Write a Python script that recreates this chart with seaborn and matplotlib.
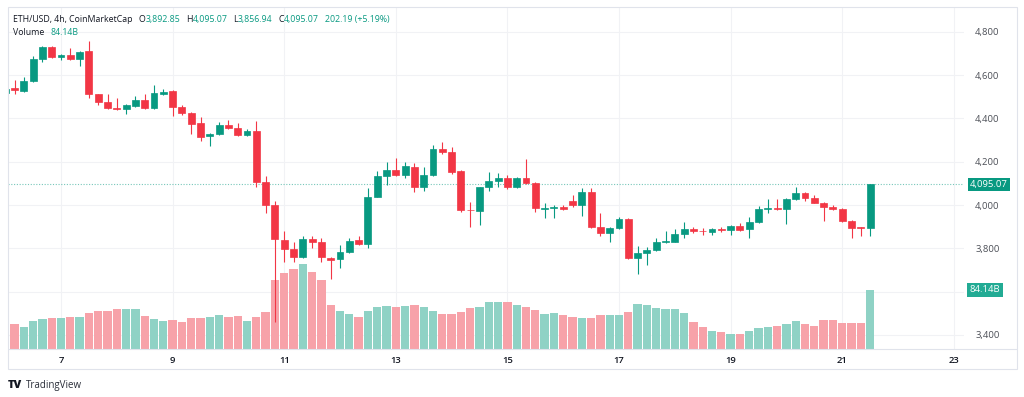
import numpy as np
import pandas as pd
import matplotlib
matplotlib.use("Agg")
import matplotlib.pyplot as plt
import matplotlib.transforms as mtransforms
from matplotlib.patches import Rectangle
from matplotlib.lines import Line2D
import seaborn as sns

# ---------------- data (ETH/USD, 4h candles) ----------------
start_time = "2025-10-06 00:00"
opens = [4517, 4540, 4528, 4573, 4675, 4728, 4686, 4692, 4674, 4710,
         4511, 4475, 4448, 4443, 4459, 4485, 4447, 4515, 4525, 4453,
         4425, 4377, 4317, 4328, 4370, 4354, 4323, 4343, 4105, 4000,
         3840, 3797, 3758, 3842, 3828, 3756, 3750, 3784, 3840, 3820,
         4038, 4135, 4162, 4139, 4177, 4085, 4139, 4259, 4243, 4157,
         3979, 3974, 4082, 4111, 4123, 4082, 4123, 4100, 3983, 3985,
         3990, 4018, 4000, 4062, 3900, 3869, 3895, 3934, 3757, 3777,
         3792, 3829, 3831, 3867, 3889, 3882, 3877, 3889, 3886, 3905,
         3888, 3923, 3980, 3988, 3982, 4028, 4054, 4034, 4011, 3990,
         3983, 3926, 3897, 3892.85]
highs = [4545, 4577, 4593, 4688, 4733, 4735, 4700, 4724, 4712, 4757,
         4515, 4515, 4496, 4466, 4505, 4515, 4554, 4535, 4530, 4460,
         4430, 4408, 4333, 4383, 4393, 4380, 4350, 4388, 4135, 4020,
         3881, 3830, 3858, 3858, 3846, 3762, 3815, 3846, 3858, 4077,
         4158, 4200, 4216, 4200, 4192, 4177, 4277, 4290, 4268, 4162,
         4015, 4085, 4151, 4146, 4139, 4128, 4212, 4105, 4011, 4000,
         3998, 4046, 4077, 4080, 3962, 3900, 3946, 3938, 3812, 3808,
         3846, 3880, 3889, 3923, 3900, 3895, 3895, 3900, 3908, 3915,
         3946, 3997, 4028, 4028, 4034, 4082, 4062, 4046, 4015, 4000,
         3988, 3930, 3898, 4095.07]
lows = [4510, 4515, 4522, 4570, 4660, 4678, 4670, 4670, 4643, 4496,
        4462, 4445, 4438, 4419, 4455, 4445, 4445, 4510, 4412, 4418,
        4327, 4296, 4274, 4325, 4350, 4320, 4318, 4085, 3962, 3460,
        3735, 3738, 3755, 3803, 3738, 3658, 3708, 3780, 3815, 3803,
        4035, 4092, 4132, 4123, 4062, 4066, 4135, 4238, 4143, 3970,
        3897, 3908, 4066, 4085, 4074, 4077, 4095, 3969, 3938, 3938,
        3978, 3992, 3951, 3895, 3858, 3831, 3890, 3752, 3680, 3723,
        3788, 3825, 3828, 3846, 3873, 3862, 3862, 3875, 3862, 3880,
        3846, 3915, 3962, 3978, 3914, 4025, 4018, 4008, 3928, 3978,
        3922, 3846, 3857, 3856.94]
closes = [4538, 4532, 4573, 4673, 4728, 4685, 4692, 4674, 4708, 4511,
          4477, 4447, 4442, 4462, 4485, 4447, 4516, 4522, 4453, 4425,
          4376, 4316, 4328, 4370, 4354, 4323, 4343, 4105, 4000, 3842,
          3797, 3758, 3842, 3828, 3758, 3748, 3784, 3834, 3822, 4038,
          4135, 4162, 4139, 4180, 4085, 4139, 4259, 4243, 4154, 3977,
          3975, 4082, 4111, 4123, 4082, 4123, 4100, 3985, 3987, 3990,
          3983, 3999, 4062, 3897, 3869, 3895, 3934, 3754, 3777, 3792,
          3831, 3833, 3867, 3889, 3880, 3878, 3889, 3885, 3903, 3885,
          3923, 3980, 3988, 3982, 4028, 4054, 4034, 4011, 3991, 3983,
          3926, 3895, 3892.88, 4095.07]
volumes_b = [42.8, 35.7, 31.8, 40.4, 42.8, 44.2, 44.2, 45.6, 45.1, 51.3,
             54.7, 54.7, 56.6, 57.0, 57.0, 47.1, 42.8, 40.4, 41.4, 39.0,
             43.7, 44.7, 45.1, 48.0, 46.1, 47.1, 40.4, 45.1, 53.2, 98.4,
             108.8, 114.1, 120.7, 109.3, 98.9, 62.7, 54.7, 50.4, 45.1, 54.2,
             59.9, 61.3, 59.4, 61.3, 62.3, 59.4, 54.7, 50.4, 49.9, 52.3,
             58.5, 60.4, 66.5, 66.5, 67.5, 62.3, 60.4, 55.1, 49.9, 50.9,
             49.0, 46.1, 44.7, 44.7, 49.0, 48.5, 48.5, 53.2, 63.7, 62.3,
             58.9, 57.5, 56.6, 50.9, 39.0, 31.4, 26.1, 23.8, 21.4, 21.4,
             25.2, 29.5, 30.9, 32.8, 35.7, 39.9, 36.1, 32.3, 40.9, 40.9,
             37.1, 37.1, 36.6, 84.14]

price_ticks = [3400, 3600, 3800, 4000, 4200, 4400, 4600, 4800]
# the 3,600 label is hidden behind the volume badge in the reference
price_tick_labels = ["3,400", "", "3,800", "4,000", "4,200", "4,400", "4,600", "4,800"]
day_ticks = [7, 9, 11, 13, 15, 17, 19, 21, 23]
title_text = "ETH/USD, 4h, CoinMarketCap"
volume_label = "Volume"
volume_value_label = "84.14B"

# ---------------- styling ----------------
UP = "#089981"
DOWN = "#F23645"
UP_VOL = "#8fd2c5"
DOWN_VOL = "#f7a2a9"
TEXT = "#131722"
AXTEXT = "#4c4f57"
GRID = "#f1f2f5"
FRAME = "#e0e3eb"

W, H = 1024, 397

times = pd.date_range(start_time, periods=len(opens), freq="4h")
df = pd.DataFrame({"time": times, "open": opens, "high": highs, "low": lows,
                   "close": closes, "volume": volumes_b})
df["pos"] = (df["time"] - df["time"].iloc[0]) / pd.Timedelta("4h")
df["dir"] = np.where(df["close"] >= df["open"], "up", "down")

sns.set_theme(style="white")
plt.rcParams["font.family"] = ["Open Sans", "DejaVu Sans"]

fig = plt.figure(figsize=(W / 100, H / 100), dpi=100)
fig.patch.set_facecolor("white")

left_px, right_px, top_px, bottom_px = 8, 964, 7, 349
rect = [left_px / W, 1 - bottom_px / H, (right_px - left_px) / W, (bottom_px - top_px) / H]
axv = fig.add_axes(rect)
ax = axv.twinx()

p_lo, p_hi = 3335, 4915
v_hi = 487.7

# ---- volume (seaborn) ----
sns.barplot(data=df, x="pos", y="volume", hue="dir", palette={"up": UP_VOL, "down": DOWN_VOL},
            native_scale=True, dodge=False, width=0.9, saturation=1, errorbar=None,
            legend=False, ax=axv, linewidth=0, zorder=2)
axv.set_ylim(0, v_hi)

# ---- candles ----
for d, col in (("up", UP), ("down", DOWN)):
    sub = df[df["dir"] == d]
    ax.vlines(sub["pos"], sub["low"], sub["high"], color=col, lw=0.8, zorder=3)
    body_lo = np.minimum(sub["open"], sub["close"])
    body_h = np.abs(sub["close"] - sub["open"])
    ax.bar(sub["pos"], body_h, bottom=body_lo, width=0.74, color=col, edgecolor=col,
           linewidth=0.5, zorder=4)

ax.set_ylim(p_lo, p_hi)
x0 = (left_px - 5.2) / 9.3
x1 = (right_px - 5.2) / 9.3
ax.set_xlim(x0, x1)
axv.set_xlim(x0, x1)

# grid drawn on the lower (volume) axes so it stays behind bars
grid_v = [(p - p_lo) / (p_hi - p_lo) * v_hi for p in price_ticks]
axv.set_yticks(grid_v)
axv.tick_params(axis="y", left=False, labelleft=False, length=0)
day_pos = [(pd.Timestamp(times[0].strftime("%Y-%m-") + f"{d:02d}") - times[0]) / pd.Timedelta("4h")
           for d in day_ticks]
axv.set_xticks(day_pos)
axv.set_xticklabels([str(d) for d in day_ticks], fontsize=6.8, color=TEXT, fontweight="semibold")
axv.tick_params(axis="x", length=0, pad=5)
axv.grid(True, color=GRID, lw=0.8)
axv.set_xlabel("")
axv.set_ylabel("")

ax.set_yticks(price_ticks)
ax.set_yticklabels(price_tick_labels, fontsize=6.8, color=AXTEXT)
ax.tick_params(axis="y", right=True, length=0, pad=8, labelright=True)
ax.grid(False)
ax.set_ylabel("")

for a in (ax, axv):
    for s in a.spines.values():
        s.set_visible(False)

# last price dotted line + badges
last_close = closes[-1]
ax.axhline(last_close, color=UP, lw=0.8, ls=(0, (1, 1.5)), alpha=0.55, zorder=2)
trans_p = mtransforms.blended_transform_factory(ax.transAxes, ax.transData)
ax.text(1.006, last_close, f"{last_close:,.2f}", transform=trans_p, color="white", fontsize=6.8,
        va="center", ha="left", clip_on=False, zorder=10,
        bbox=dict(boxstyle="square,pad=0.22", fc=UP, ec="none"))
trans_v = mtransforms.blended_transform_factory(ax.transAxes, axv.transData)
ax.text(1.006, volumes_b[-1], volume_value_label, transform=trans_v, color="white", fontsize=6.8,
        va="center", ha="left", clip_on=False, zorder=10,
        bbox=dict(boxstyle="square,pad=0.28", fc="#22ab94", ec="none"))

# frame
fig.add_artist(Rectangle((8 / W, 1 - 369 / H), (1017 - 8) / W, (369 - 7) / H,
                         transform=fig.transFigure, fill=False, ec=FRAME, lw=0.8))
fig.add_artist(Line2D([8 / W, 1017 / W], [1 - 349 / H, 1 - 349 / H],
                      transform=fig.transFigure, color=FRAME, lw=0.8))

# header (rich text laid out piece by piece)
prev_close = closes[-2]
chg = last_close - prev_close
pct = chg / prev_close * 100
row1 = [(title_text, TEXT, 0), ("O", TEXT, 6), (f"{opens[-1]:,.2f}", UP, 0), ("H", TEXT, 6),
        (f"{highs[-1]:,.2f}", UP, 0), ("L", TEXT, 6), (f"{lows[-1]:,.2f}", UP, 0), ("C", TEXT, 6),
        (f"{closes[-1]:,.2f}", UP, 0), (f"{chg:,.2f} ({pct:+.2f}%)", UP, 6)]
row2 = [(volume_label, TEXT, 0), (volume_value_label, UP, 6)]

fig.canvas.draw()
renderer = fig.canvas.get_renderer()

def rich(x_px, base_px, parts, size):
    xcur = x_px
    for s, c, gap in parts:
        xcur += gap
        t = fig.text(xcur / W, 1 - base_px / H, s, color=c, fontsize=size, ha="left", va="baseline")
        bb = t.get_window_extent(renderer=renderer)
        xcur += bb.width
    return xcur

rich(13, 22, row1, 6.3)
rich(13, 35, row2, 6.3)

# footer
fig.text(8 / W, 1 - 388 / H, "TV", fontsize=8, fontweight="black", color=TEXT, ha="left", va="baseline")
fig.text(26 / W, 1 - 388 / H, "TradingView", fontsize=7, color="#2a2e39", ha="left", va="baseline")

fig.savefig("out.png", dpi=100, facecolor="white")
